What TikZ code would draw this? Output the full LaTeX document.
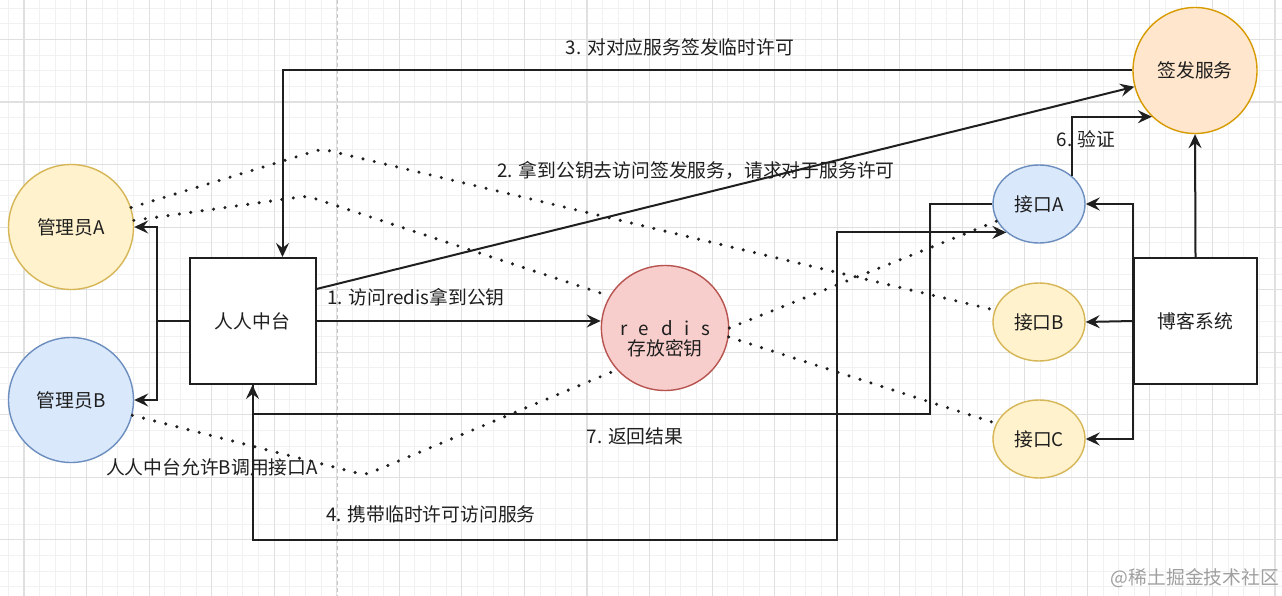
\documentclass[tikz,border=0pt]{standalone}
\usepackage{fontspec}
\setmainfont{Noto Sans CJK SC}
\usepackage{tikz}
\usetikzlibrary{arrows.meta,shapes.geometric}

\definecolor{ink}{HTML}{1F1F1F}
\definecolor{yfill}{HTML}{FFF2CC}
\definecolor{ydraw}{HTML}{D6B656}
\definecolor{bfill}{HTML}{DAE8FC}
\definecolor{bdraw}{HTML}{6C8EBF}
\definecolor{rfill}{HTML}{F8CECC}
\definecolor{rdraw}{HTML}{B85450}
\definecolor{ofill}{HTML}{FFE6CC}
\definecolor{odraw}{HTML}{D79B00}

\begin{document}
\begin{tikzpicture}[
  x=1pt, y=-1pt,
  font=\fontsize{18.8}{23}\selectfont,
  roundnode/.style={draw, ellipse, line width=1.4pt, minimum width=125pt,
                    minimum height=125pt, inner sep=0pt, text=ink, align=center},
  api/.style={roundnode, minimum width=92pt, minimum height=78pt},
  box/.style={draw=ink, line width=2pt, fill=white, minimum width=126pt,
              minimum height=126pt, text=ink},
  arrow/.style={-{Stealth[length=14pt,width=13pt,inset=5pt]}, line width=2pt, draw=ink},
  dots/.style={line width=3.4pt, dash pattern=on 0pt off 11.5pt, line cap=round,
               draw=ink, rounded corners=6pt},
  lbl/.style={inner sep=0pt, text=ink},
  minorgrid/.style={draw=gray!11, line width=0.9pt},
  majorgrid/.style={draw=gray!24, line width=1.1pt}
]
\useasboundingbox[fill=white] (0,0) rectangle (1282,596);

% grid
\foreach \i in {-1,...,80} \draw[minorgrid] ({24+15.6375*\i},0) -- ++(0,596);
\foreach \j in {-2,...,35} \draw[minorgrid] (0,{39.5+15.6375*\j}) -- ++(1282,0);
\foreach \i in {0,...,20} \draw[majorgrid] ({24+62.55*\i},0) -- ++(0,596);
\foreach \j in {0,...,8} \draw[majorgrid] (0,{39.5+62.55*\j}) -- ++(1282,0);
\draw[gray!45, line width=1pt, dash pattern=on 4pt off 3pt] (337,0) -- (337,596);

% nodes
\node[roundnode, fill=yfill, draw=ydraw] (adminA) at (71,227) {管理员A};
\node[roundnode, fill=bfill, draw=bdraw] (adminB) at (71,400) {管理员B};
\node[box] (hub) at (252.5,321) {人人中台};
\node[roundnode, fill=rfill, draw=rdraw] (redis) at (665,328)
  {\rule{0pt}{36pt}{\spaceskip=0.62em\relax r e d i s}\\[-3pt]存放密钥};
\node[roundnode, fill=ofill, draw=odraw, minimum width=124pt, minimum height=126pt]
  (sign) at (1195,70.5) {签发服务};
\node[api, fill=bfill, draw=bdraw] (apiA) at (1039,204) {接口A};
\node[api, fill=yfill, draw=ydraw] (apiB) at (1039,322) {接口B};
\node[api, fill=yfill, draw=ydraw] (apiC) at (1039,439) {接口C};
\node[box, minimum width=123pt] (blog) at (1195.5,321) {博客系统};

\coordinate (w1) at (322,149);
\coordinate (w2) at (307,196);
\coordinate (w5) at (365,475);
\coordinate (r7) at (930,414);
\coordinate (b4) at (837,540);

% dotted links
\draw[dots] (adminA.18) -- (w1) -- (apiB.165);
\draw[dots] (adminA.6) -- (w2) -- (redis.150);
\draw[dots] (redis.0) -- (apiA.202);
\draw[dots] (redis.-8) -- (apiC.160);
\draw[dots] (adminB.-14) -- (w5) -- (redis.221);

% arrows
\draw[arrow] (hub.east) -- (hub.east -| redis.west);
\draw[arrow] ([yshift=32pt]hub.east) -- (sign.195);
\draw[arrow] (sign.west) -| ([xshift=30pt]hub.north);
\draw[arrow] (hub.south) |- (b4) |- (apiA.221);
\draw[arrow] (apiA.west) -| (r7) -| (hub.south);
\draw[arrow] (apiA.41) |- (sign.227);
\draw[arrow] (hub.west) -- ++(-32,0) |- (adminA.east);
\draw[arrow] (hub.west) -- ++(-32,0) |- (adminB.east);
\draw[arrow] (blog.north) -- (sign.south);
\draw[arrow] (blog.west) -- (apiB.east);
\draw[arrow] (blog.west) |- (apiA.east);
\draw[arrow] (blog.west) |- (apiC.east);

% labels
\node[lbl] (l1) at (416,297) {1. 访问redis拿到公钥};
\node[lbl] (l2) at (696,170) {2. 拿到公钥去访问签发服务，请求对于服务许可};
\node[lbl] (l3) at (680,47) {3. 对对应服务签发临时许可};
\node[lbl] (l4) at (431,514) {4. 携带临时许可访问服务};
\node[lbl] (l6) at (1086,139) {6. 验证};
\node[lbl] (l7) at (635,436) {7. 返回结果};
\node[lbl] (lB) at (212,467) {人人中台允许B调用接口A};
\node[inner sep=0pt, text=gray!75] (mark) at (1195,578) {@稀土掘金技术社区};
\end{tikzpicture}
\end{document}
